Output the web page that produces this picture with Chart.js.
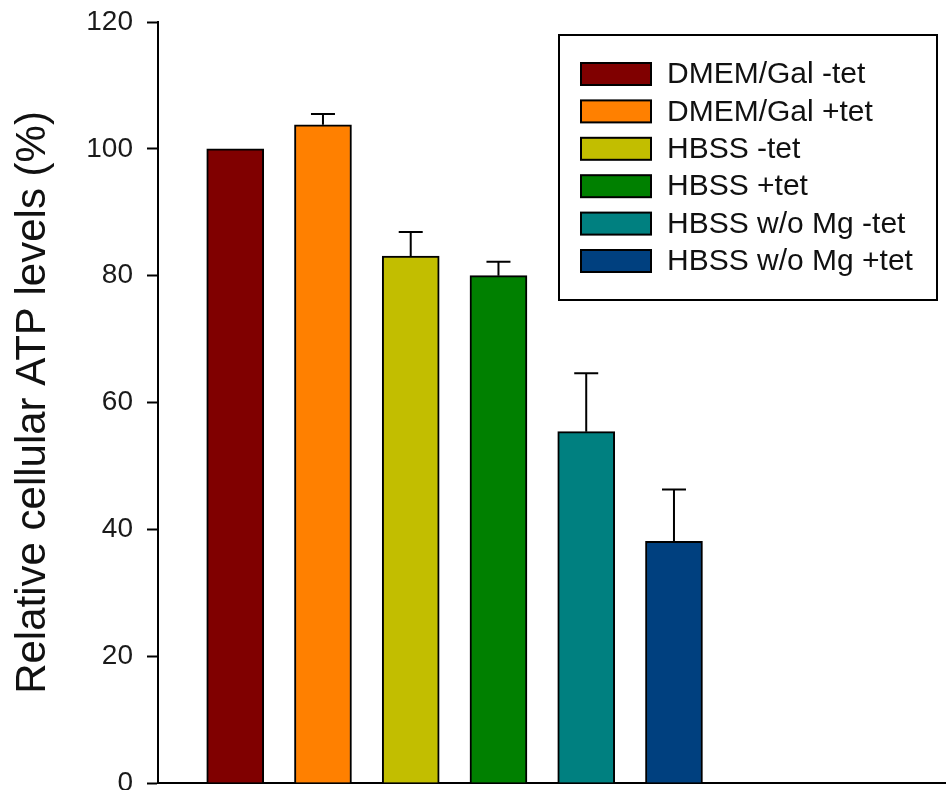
<!DOCTYPE html>
<html>
<head>
<meta charset="utf-8">
<title>Relative cellular ATP levels</title>
<script src="https://cdn.jsdelivr.net/npm/chart.js@4/dist/chart.umd.min.js"></script>
<style>
  html, body { margin: 0; padding: 0; background: #fff; }
  #wrap { position: relative; width: 946px; height: 790px; }
</style>
</head>
<body>
<div id="wrap"><canvas id="atp-chart"></canvas></div>
<script>
// ---- data ----
const conditions = ['DMEM/Gal -tet', 'DMEM/Gal +tet', 'HBSS -tet', 'HBSS +tet', 'HBSS w/o Mg -tet', 'HBSS w/o Mg +tet'];
const positions = [1, 2, 3, 4, 5, 6];
const atpMeans = [100, 103.8, 83.1, 80.0, 55.4, 38.1];
const atpErrors = [0, 1.7, 3.8, 2.2, 9.2, 8.2];
const barColors = ['#800000', '#FF8000', '#C2BE00', '#008000', '#008080', '#00407F'];
const yTicks = [0, 20, 40, 60, 80, 100, 120];

const FONT = "'Liberation Sans', Arial, Helvetica, sans-serif";

// upper error bars, drawn from the scales
const errorBars = {
  id: 'errorBars',
  afterDatasetsDraw(chart) {
    const { ctx, scales: { x, y } } = chart;
    ctx.save();
    ctx.strokeStyle = '#000';
    ctx.lineWidth = 2;
    atpMeans.forEach((m, i) => {
      if (!atpErrors[i]) return;
      const px = x.getPixelForValue(positions[i]);
      const y0 = y.getPixelForValue(m);
      const y1 = y.getPixelForValue(m + atpErrors[i]);
      ctx.beginPath();
      ctx.moveTo(px, y0);
      ctx.lineTo(px, y1);
      ctx.moveTo(px - 12, y1);
      ctx.lineTo(px + 12, y1);
      ctx.stroke();
    });
    ctx.restore();
  }
};

// boxed legend in the top-right corner of the plot
const boxLegend = {
  id: 'boxLegend',
  afterDraw(chart) {
    const { ctx, chartArea } = chart;
    const left = chartArea.right - 387, top = chartArea.top + 13;
    const w = 378, h = 265;
    ctx.save();
    ctx.fillStyle = '#fff';
    ctx.fillRect(left, top, w, h);
    ctx.strokeStyle = '#000';
    ctx.lineWidth = 2;
    ctx.strokeRect(left, top, w, h);
    ctx.font = '30px ' + FONT;
    ctx.textBaseline = 'middle';
    conditions.forEach((label, i) => {
      const cy = top + 39 + i * 37.4;
      ctx.fillStyle = barColors[i];
      ctx.fillRect(left + 22, cy - 11, 70, 22);
      ctx.strokeRect(left + 22, cy - 11, 70, 22);
      ctx.fillStyle = '#111';
      ctx.fillText(label, left + 108, cy + 1);
    });
    ctx.restore();
  }
};

new Chart(document.getElementById('atp-chart'), {
  type: 'bar',
  data: {
    datasets: [{
      data: positions.map((p, i) => ({ x: p, y: atpMeans[i] })),
      backgroundColor: barColors,
      borderColor: '#000',
      borderWidth: 2,
      barThickness: 57,
    }],
  },
  options: {
    responsive: true,
    maintainAspectRatio: false,
    animation: false,
    layout: { padding: { top: 22, right: 0, bottom: 7, left: 0 } },
    plugins: { legend: { display: false }, tooltip: { enabled: false } },
    scales: {
      x: {
        type: 'linear',
        offset: false,
        min: 0.12,
        max: 9.1,
        ticks: { display: false },
        grid: { display: false, drawTicks: false },
        border: { display: true, color: '#000', width: 2 },
        afterFit: s => { s.height = 0; },
      },
      y: {
        min: 0,
        max: 120,
        afterBuildTicks: s => { s.ticks = yTicks.map(v => ({ value: v })); },
        ticks: { color: '#1a1a1a', padding: 14, font: { family: FONT, size: 28 } },
        grid: { drawOnChartArea: false, drawTicks: true, tickLength: 11, tickColor: '#000', tickWidth: 2 },
        border: { display: true, color: '#000', width: 2 },
        title: {
          display: true,
          text: 'Relative cellular ATP levels (%)',
          color: '#111',
          font: { family: FONT, size: 42 },
          padding: { top: 8, bottom: 0 },
        },
        afterFit: s => { s.width = 158; s.paddingTop = 0; s.paddingBottom = 0; },
      },
    },
  },
  plugins: [errorBars, boxLegend],
});
</script>
</body>
</html>
